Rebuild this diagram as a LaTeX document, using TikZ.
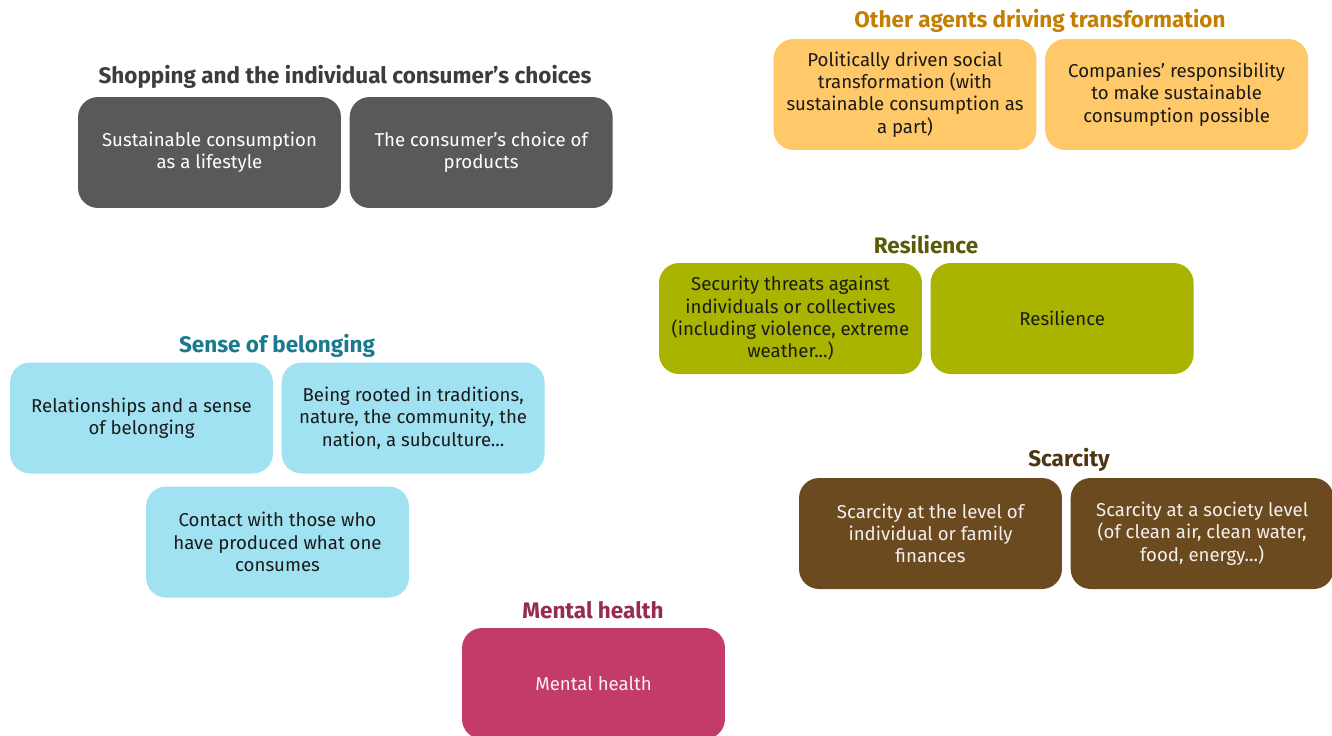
\documentclass[tikz,border=0pt]{standalone}
\usepackage{fontspec}
\setmainfont{Fira Sans}
\usetikzlibrary{positioning}

\definecolor{shopfill}{HTML}{595959}
\definecolor{shoptitle}{HTML}{3C3C3C}
\definecolor{agentfill}{HTML}{FFC869}
\definecolor{agenttitle}{HTML}{C47F00}
\definecolor{resilfill}{HTML}{A9B400}
\definecolor{resiltitle}{HTML}{5A5A0A}
\definecolor{belongfill}{HTML}{A0E2F1}
\definecolor{belongtitle}{HTML}{1B7A8E}
\definecolor{scarcefill}{HTML}{6B4A1F}
\definecolor{scarcetitle}{HTML}{4F3514}
\definecolor{mentalfill}{HTML}{C33B6B}
\definecolor{mentaltitle}{HTML}{962D50}
\definecolor{darktext}{HTML}{1A1A1A}

\begin{document}
\begin{tikzpicture} [x=0.02cm,y=-0.02cm,node distance=0.16cm]
        \tikzstyle{card}=[rounded corners=0.4cm, minimum width=5.26cm, minimum height=2.22cm, align=center, inner sep=0mm, font=\fontsize{10.6}{12.7}\selectfont]
        \tikzstyle{heading}=[font=\fontsize{12.8}{14}\selectfont\bfseries]
        \clip (0,0) rectangle (1332,735);
        \fill[white] (0,0) rectangle (1332,735);

        % shopping
        \node[card, fill=shopfill, text=white] (Lifestyle) at (209.5,152.5) {Sustainable consumption\\ as a lifestyle};
        \node[card, fill=shopfill, text=white] (Choice) [right=of Lifestyle] {The consumer's choice of\\ products};
        \node[heading, text=shoptitle] (ShopTitle) at (345,77) {Shopping and the individual consumer's choices};

        % other agents
        \node[card, fill=agentfill, text=darktext] (Political) at (905,94.5) {Politically driven social\\ transformation (with\\ sustainable consumption as\\ a part)};
        \node[card, fill=agentfill, text=darktext] (Companies) [right=of Political] {Companies' responsibility\\ to make sustainable\\ consumption possible};
        \node[heading, text=agenttitle] (AgentTitle) at (1040,21) {Other agents driving transformation};

        % resilience
        \node[card, fill=resilfill, text=darktext] (Security) at (790.5,318.5) {Security threats against\\ individuals or collectives\\ (including violence, extreme\\ weather...)};
        \node[card, fill=resilfill, text=darktext] (Resil) [right=of Security] {Resilience};
        \node[heading, text=resiltitle] (ResilTitle) at (926,245) {Resilience};

        % sense of belonging
        \node[card, fill=belongfill, text=darktext] (Relations) at (141.5,418) {Relationships and a sense\\ of belonging};
        \node[card, fill=belongfill, text=darktext] (Rooted) [right=of Relations] {Being rooted in traditions,\\ nature, the community, the\\ nation, a subculture...};
        \node[card, fill=belongfill, text=darktext] (Contact) at (277.5,542) {Contact with those who\\ have produced what one\\ consumes};
        \node[heading, text=belongtitle] (BelongTitle) at (277,346) {Sense of belonging};

        % scarcity
        \node[card, fill=scarcefill, text=white!92!scarcefill] (Finances) at (930.5,533.5) {Scarcity at the level of\\ individual or family\\ finances};
        \node[card, fill=scarcefill, text=white!92!scarcefill] (Society) [right=of Finances] {Scarcity at a society level\\ (of clean air, clean water,\\ food, energy...)};
        \node[heading, text=scarcetitle] (ScarceTitle) at (1069,460) {Scarcity};

        % mental health
        \node[card, fill=mentalfill, text=white!92!mentalfill] (Mental) at (593.5,683.5) {Mental health};
        \node[heading, text=mentaltitle] (MentalTitle) at (593,610) {Mental health};
      \end{tikzpicture}
\end{document}
